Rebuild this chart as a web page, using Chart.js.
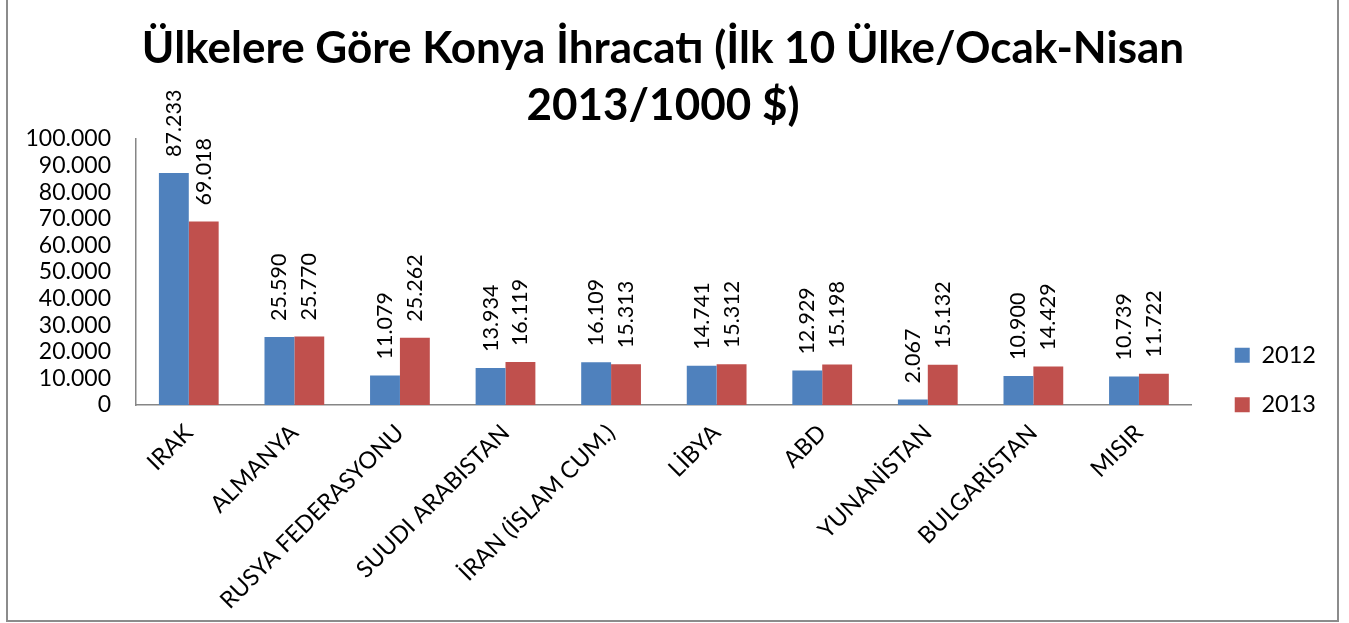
<!DOCTYPE html>
<html>
<head>
<meta charset="utf-8">
<title>Ülkelere Göre Konya İhracatı</title>
<script src="https://cdn.jsdelivr.net/npm/chart.js@4/dist/chart.umd.min.js"></script>
<style>
html, body { margin: 0; padding: 0; background: #fff; overflow: hidden; }
#frame { position: absolute; left: 6px; top: -4px; width: 1333px; height: 626px; box-sizing: border-box; border: 2px solid #8c8c8c; }
#box { position: absolute; left: 0; top: 0; width: 1349px; height: 623px; }
</style>
</head>
<body>
<div id="frame"></div>
<div id="box"><canvas id="myChart"></canvas></div>
<script>
const countries = ['IRAK', 'ALMANYA', 'RUSYA FEDERASYONU', 'SUUDI ARABISTAN', 'İRAN (İSLAM CUM.)',
    'LİBYA', 'ABD', 'YUNANİSTAN', 'BULGARİSTAN', 'MISIR'];
const exports2012 = [87233, 25590, 11079, 13934, 16109, 14741, 12929, 2067, 10900, 10739];
const exports2013 = [69018, 25770, 25262, 16119, 15313, 15312, 15198, 15132, 14429, 11722];
const titleLines = ['Ülkelere Göre Konya İhracatı (İlk 10 Ülke/Ocak-Nisan', '2013/1000 $)'];

const FONT = 'Lato, "Open Sans", sans-serif';

// 87233 -> 87.233
function fmt(v) {
    return String(v).replace(/\B(?=(\d{3})+(?!\d))/g, '.');
}

// values printed vertically above every bar
const barLabels = {
    id: 'barLabels',
    afterDatasetsDraw(chart) {
        const ctx = chart.ctx;
        ctx.save();
        ctx.font = '21.5px ' + FONT;
        ctx.fillStyle = '#000';
        ctx.textAlign = 'left';
        ctx.textBaseline = 'middle';
        chart.data.datasets.forEach((ds, di) => {
            chart.getDatasetMeta(di).data.forEach((bar, i) => {
                ctx.save();
                ctx.translate(bar.x, bar.y - 16);
                ctx.rotate(-Math.PI / 2);
                ctx.fillText(fmt(ds.data[i]), 0, 0);
                ctx.restore();
            });
        });
        ctx.restore();
    }
};

const ctx = document.getElementById('myChart').getContext('2d');

const myChart = new Chart(ctx, {
    type: 'bar',
    data: {
        labels: countries,
        datasets: [{
            label: '2012',
            data: exports2012,
            backgroundColor: '#4F81BD',
            categoryPercentage: 0.566,
            barPercentage: 1
        }, {
            label: '2013',
            data: exports2013,
            backgroundColor: '#C0504D',
            categoryPercentage: 0.566,
            barPercentage: 1
        }]
    },
    options: {
        responsive: true,
        maintainAspectRatio: false,
        animation: false,
        layout: { padding: { left: 0, right: 23, top: 0, bottom: 1 } },
        plugins: {
            title: {
                display: true,
                text: titleLines,
                color: '#000',
                font: { family: FONT, size: 44, weight: 'bold', lineHeight: 1.295 },
                padding: { top: 20, bottom: 5 }
            },
            legend: {
                position: 'right',
                // empty title only pushes the two entries down
                title: { display: true, text: '', font: { size: 10, lineHeight: 1.2 }, padding: { top: 126, bottom: 0 } },
                labels: {
                    color: '#000',
                    font: { family: FONT, size: 23.5 },
                    boxWidth: 15,
                    boxHeight: 15,
                    padding: 26
                }
            },
            tooltip: { enabled: false }
        },
        scales: {
            x: {
                grid: { display: false, drawTicks: false },
                border: { display: true, color: '#868686', width: 1.5 },
                ticks: {
                    color: '#000',
                    font: { family: FONT, size: 23.5 },
                    minRotation: 45,
                    maxRotation: 45,
                    autoSkip: false,
                    padding: 14
                },
                afterFit(s) { s.height = 217; }
            },
            y: {
                min: 0,
                max: 100000,
                grid: { display: false, drawTicks: false },
                border: { display: true, color: '#868686', width: 1.5 },
                ticks: {
                    stepSize: 10000,
                    autoSkip: false,
                    color: '#000',
                    font: { family: FONT, size: 23 },
                    padding: 25,
                    callback: v => fmt(v)
                },
                afterFit(s) { s.width = 136; }
            },
            // empty axis, only keeps a gap between plot and legend
            gap: {
                position: 'right',
                grid: { display: false, drawTicks: false },
                border: { display: false },
                ticks: { display: false },
                afterFit(s) { s.width = 17; }
            }
        }
    },
    plugins: [barLabels]
});
</script>
</body>
</html>
